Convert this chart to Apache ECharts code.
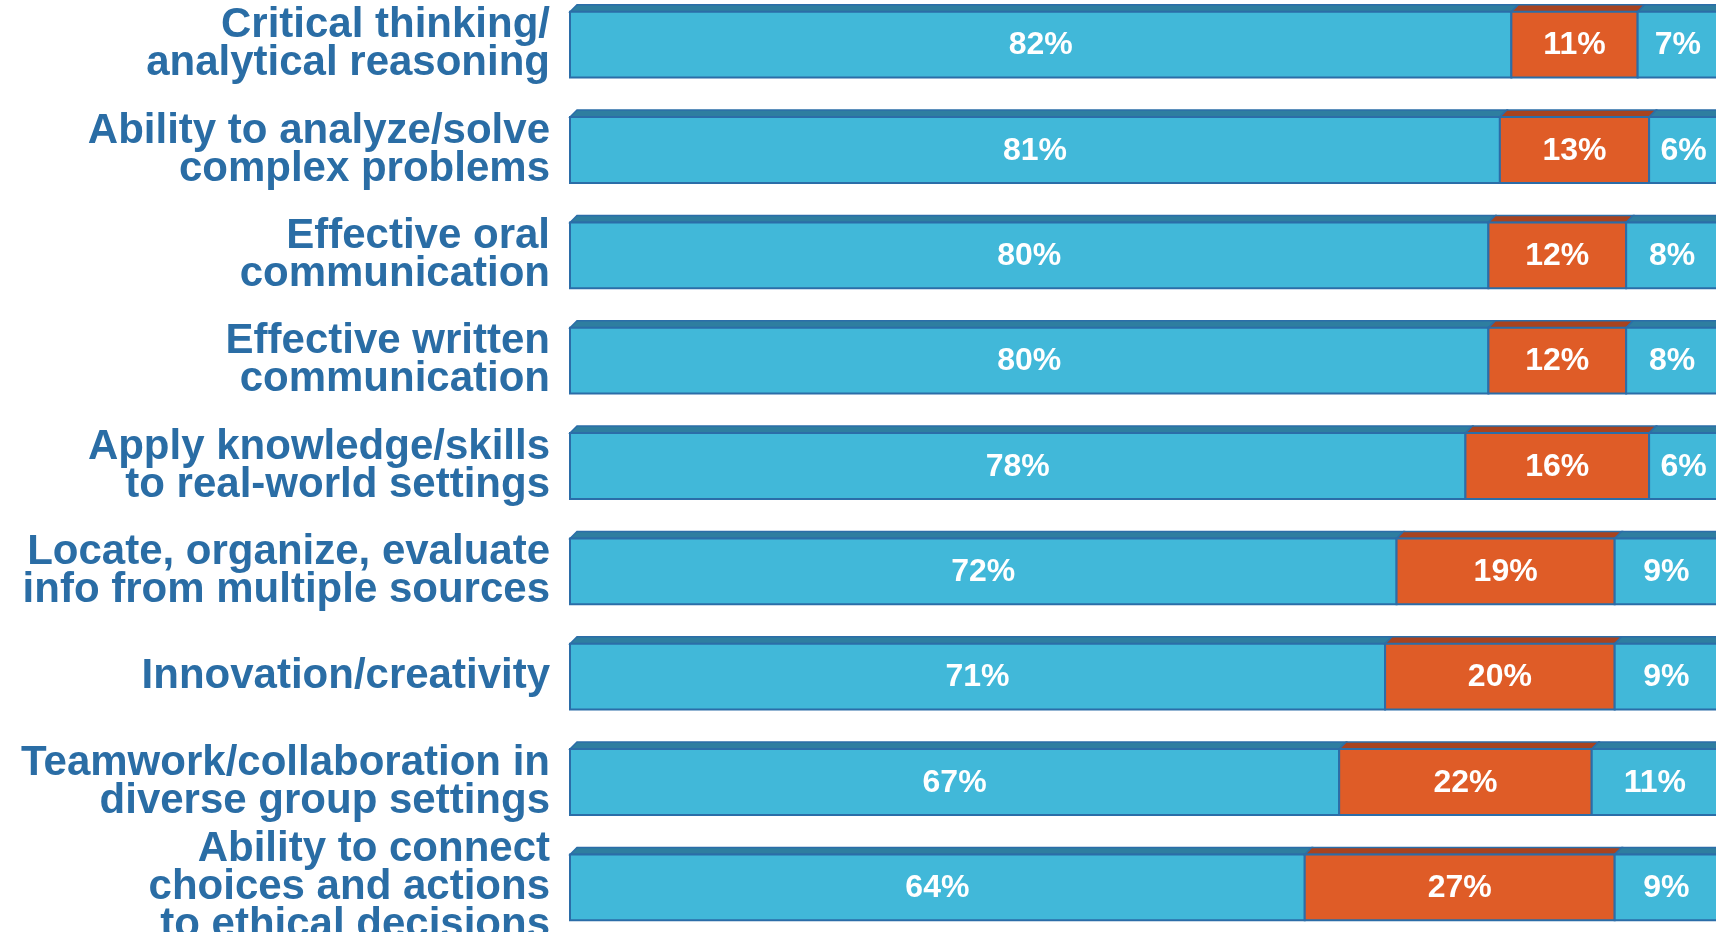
<!DOCTYPE html>
<html>
<head>
<meta charset="utf-8">
<script src="https://cdn.jsdelivr.net/npm/echarts@6/dist/echarts.min.js"></script>
<style>
html,body{margin:0;padding:0;background:#fff;}
#chart{width:1716px;height:932px;}
</style>
</head>
<body>
<div id="chart"></div>
<script>
const categories = [
  'Critical thinking/\nanalytical reasoning',
  'Ability to analyze/solve\ncomplex problems',
  'Effective oral\ncommunication',
  'Effective written\ncommunication',
  'Apply knowledge/skills\nto real-world settings',
  'Locate, organize, evaluate\ninfo from multiple sources',
  'Innovation/creativity',
  'Teamwork/collaboration in\ndiverse group settings',
  'Ability to connect\nchoices and actions\nto ethical decisions'
];
const firstValues = [82, 81, 80, 80, 78, 72, 71, 67, 64];
const secondValues = [11, 13, 12, 12, 16, 19, 20, 22, 27];
const thirdValues = [7, 6, 8, 8, 6, 9, 9, 11, 9];

const segs = [firstValues, secondValues, thirdValues];
const fronts = ['#41B8D9', '#DF5C27', '#41B8D9'];
const tops = ['#2E7EA0', '#A8431F', '#2E7EA0'];
const border = '#2B6DA8';

function buildData(idx) {
  return categories.map((c, i) => {
    let start = 0;
    for (let k = 0; k < idx; k++) start += segs[k][i];
    return [start, start + segs[idx][i], i, segs[idx][i]];
  });
}

function makeRender(idx) {
  return function (params, api) {
    const cat = api.value(2);
    const s = api.coord([api.value(0), cat]);
    const e = api.coord([api.value(1), cat]);
    const band = api.size([0, 1])[1];
    const h = band * 0.625;
    const d = 7;
    const y0 = s[1] - h / 2;
    const w = e[0] - s[0];
    return {
      type: 'group',
      children: [
        {
          type: 'polygon',
          shape: { points: [[s[0], y0], [s[0] + d, y0 - d], [e[0] + d, y0 - d], [e[0], y0]] },
          style: { fill: tops[idx], stroke: border, lineWidth: 1.5 }
        },
        {
          type: 'rect',
          shape: { x: s[0], y: y0, width: w, height: h },
          style: { fill: fronts[idx], stroke: border, lineWidth: 2 }
        },
        {
          type: 'text',
          style: {
            text: api.value(3) + '%',
            x: s[0] + w / 2,
            y: s[1] + 1,
            align: 'center',
            verticalAlign: 'middle',
            fill: '#ffffff',
            font: 'bold 32px "Liberation Sans", Arial, sans-serif'
          }
        }
      ]
    };
  };
}

const chart = echarts.init(document.getElementById('chart'));
chart.setOption({
  animation: false,
  grid: { left: 570, width: 1148, top: -8, height: 948, outerBoundsMode: 'none', containLabel: false },
  xAxis: { type: 'value', min: 0, max: 100, show: false },
  yAxis: {
    type: 'category',
    data: categories,
    inverse: true,
    axisLine: { show: false },
    axisTick: { show: false },
    splitLine: { show: false },
    axisLabel: {
      interval: 0,
      margin: 20,
      align: 'right',
      color: '#2A6DA5',
      fontSize: 42,
      fontWeight: 'bold',
      lineHeight: 38,
      fontFamily: '"Liberation Sans", Arial, sans-serif'
    }
  },
  series: [0, 1, 2].map(idx => ({
    type: 'custom',
    renderItem: makeRender(idx),
    encode: { x: [0, 1], y: 2 },
    data: buildData(idx),
    clip: false
  }))
});
</script>
</body>
</html>
